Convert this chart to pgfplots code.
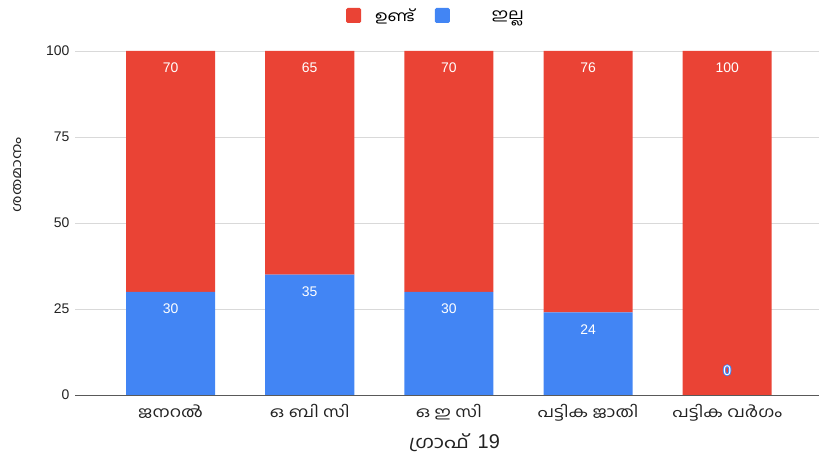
\documentclass[border=0pt]{standalone}
\usepackage{fontspec}
\setmainfont{Liberation Sans}
\newfontfamily\ml[Script=Malayalam, FakeStretch=1.2]{Hind Kochi}
\usepackage{pgfplots}
\pgfplotsset{compat=1.18}
\definecolor{cred}{HTML}{EA4335}
\definecolor{cblue}{HTML}{4285F4}
\definecolor{gridc}{HTML}{D9D9D9}
\definecolor{txt}{HTML}{222222}
\newcommand\haloed[1]{\rlap{\color{cblue}\special{pdf:literal direct 1 Tr 2 w}#1\special{pdf:literal direct 0 Tr}}#1}
\pgfplotsset{
  geom/.style={at={(75bp,67bp)}, anchor=south west,
    scale only axis, width=744bp, height=344bp,
    xmin=-0.687, xmax=4.66, ymin=0, ymax=100},
}
\begin{document}
\begin{tikzpicture}
\path[use as bounding box] (0,0) rectangle (821bp,462bp);
\begin{axis}[
  geom,
  ybar stacked, bar width=0.64,
  xtick={0,1,2,3,4},
  xticklabels={ജനറൽ, ഒ ബി സി, ഒ ഇ സി, പട്ടിക ജാതി, പട്ടിക വർഗം},
  ytick={0,25,50,75,100},
  ymajorgrids, grid style={gridc, line width=0.8pt},
  axis x line=bottom, axis y line=left,
  y axis line style={draw=none},
  x axis line style={-, draw=gray!70!black, line width=0.9pt},
  major tick length=0pt,
  tick label style={color=txt},
  yticklabel style={font=\fontsize{14}{16}\selectfont, xshift=-2bp},
  xticklabel style={font=\ml\fontsize{15}{17}\selectfont, anchor=base, yshift=-22bp},
  /pgf/number format/assume math mode=true,
  xlabel={{\ml\fontsize{17.5}{20}\selectfont ഗ്രാഫ്}\, 19},
  xlabel style={at={(axis description cs:0.51,0)}, anchor=center, yshift=-48bp, font=\fontsize{20}{23}\selectfont, color=txt},
  ylabel={\ml ശതമാനം},
  ylabel style={at={(axis description cs:-0.0766,0.64)}, anchor=center, font=\fontsize{13.5}{16}\selectfont, color=txt},
  nodes near coords,
  visualization depends on=rawy \as \rawy,
  every node near coord/.append style={font=\fontsize{14}{16}\selectfont, color=white, anchor=north, inner sep=0pt,
     yshift={\rawy*1.728-12}},
  legend style={at={(0.4839,1)}, anchor=center, yshift=35.5bp, draw=none, fill=none, inner sep=0pt, outer sep=0pt,
    font=\ml\fontsize{15}{17}\selectfont, legend columns=2,
    nodes={inner sep=0pt, outer sep=0pt},
    /tikz/column sep=0pt,
    /tikz/every odd column/.style={column sep=0pt},
    /tikz/every even column/.style={column sep=20bp}},
  legend image code/.code={\path[fill=none, draw=none] (0bp,-7.5bp) rectangle (29bp,7.5bp); \fill[#1, rounded corners=1.5bp] (0bp,-7.5bp) rectangle (15bp,7.5bp);},
  reverse legend,
]
\addplot[fill=cblue, draw=none]
  coordinates {(0,30) (1,35) (2,30) (3,24) (4,0)};
\addlegendentry{\hspace*{28bp}ഇല്ല}
\addplot[fill=cred, draw=none]
  coordinates {(0,70) (1,65) (2,70) (3,76) (4,100)};
\addlegendentry{ഉണ്ട്}
\end{axis}
\begin{axis}[geom, hide axis]
\addplot[draw=none, mark=none, nodes near coords, point meta=explicit symbolic,
  nodes near coords={\haloed{\pgfplotspointmeta}},
  every node near coord/.style={font=\fontsize{14}{16}\selectfont, color=white, anchor=center, inner sep=0pt}]
  coordinates {(4,7.2) [0]};
\end{axis}
\end{tikzpicture}
\end{document}
